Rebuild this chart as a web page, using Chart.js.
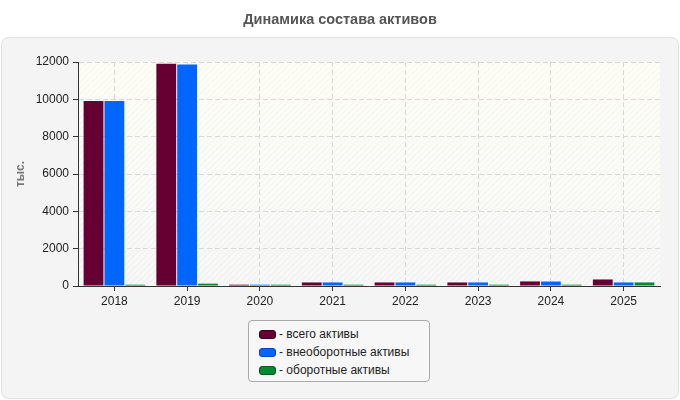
<!DOCTYPE html>
<html>
<head>
<meta charset="utf-8">
<script src="https://cdn.jsdelivr.net/npm/chart.js@4/dist/chart.umd.min.js"></script>
<style>
  html, body { margin: 0; padding: 0; background: #fff; }
  #wrap { position: relative; width: 680px; height: 400px; }
  #legend {
    position: absolute; left: 248px; top: 320px; width: 182px; height: 62px;
    border: 1px solid #aaa; border-radius: 4px; background: #f7f7f7;
    font: 12px "Liberation Sans", Arial, sans-serif; color: #222;
    box-sizing: border-box; padding: 4px 0 0 10px;
  }
  #legend div { height: 18px; line-height: 18px; white-space: nowrap; }
  #legend span.sw {
    display: inline-block; width: 17px; height: 9px; border-radius: 3px;
    vertical-align: -1px; margin-right: 3px; box-sizing: border-box;
  }
</style>
</head>
<body>
<div id="wrap">
  <canvas id="assetChart" width="680" height="400"></canvas>
  <div id="legend"></div>
</div>
<script>
const years = ['2018', '2019', '2020', '2021', '2022', '2023', '2024', '2025'];
const totalAssets   = [9910, 11910, 70, 190, 190, 190, 245, 350];
const fixedAssets   = [9910, 11860, 70, 190, 190, 190, 240, 190];
const currentAssets = [70, 125, 70, 70, 70, 70, 70, 190];
const seriesNames = ['всего активы', 'внеоборотные активы', 'оборотные активы'];
const seriesColors = ['#660033', '#0066ff', '#008833'];
const seriesBorders = ['#3a001c', '#0047b3', '#005a20'];

const fontFamily = '"Liberation Sans", Arial, sans-serif';

// hatch pattern for the plot area
function makeHatch() {
  const c = document.createElement('canvas');
  c.width = 6; c.height = 6;
  const g = c.getContext('2d');
  g.strokeStyle = 'rgba(0,0,0,0.035)';
  g.lineWidth = 1;
  g.beginPath();
  g.moveTo(0, 6); g.lineTo(6, 0);
  g.moveTo(-1, 1); g.lineTo(1, -1);
  g.moveTo(5, 7); g.lineTo(7, 5);
  g.stroke();
  return c;
}

function roundRect(ctx, x, y, w, h, r) {
  ctx.beginPath();
  ctx.moveTo(x + r, y);
  ctx.lineTo(x + w - r, y);
  ctx.quadraticCurveTo(x + w, y, x + w, y + r);
  ctx.lineTo(x + w, y + h - r);
  ctx.quadraticCurveTo(x + w, y + h, x + w - r, y + h);
  ctx.lineTo(x + r, y + h);
  ctx.quadraticCurveTo(x, y + h, x, y + h - r);
  ctx.lineTo(x, y + r);
  ctx.quadraticCurveTo(x, y, x + r, y);
  ctx.closePath();
}

const backgroundPlugin = {
  id: 'panelBackground',
  beforeDraw(chart) {
    const ctx = chart.ctx;
    const a = chart.chartArea;
    ctx.save();
    ctx.fillStyle = '#fff';
    ctx.fillRect(0, 0, chart.width, chart.height);
    roundRect(ctx, 1.5, 37.5, chart.width - 3, chart.height - 39, 8);
    ctx.fillStyle = '#f4f4f4';
    ctx.fill();
    ctx.strokeStyle = '#e2e2e2';
    ctx.lineWidth = 1;
    ctx.stroke();
    const grad = ctx.createLinearGradient(0, a.top, 0, a.bottom);
    grad.addColorStop(0, '#fefef6');
    grad.addColorStop(1, '#f7f7f7');
    ctx.fillStyle = grad;
    ctx.fillRect(a.left, a.top, a.right - a.left, a.bottom - a.top);
    ctx.fillStyle = ctx.createPattern(makeHatch(), 'repeat');
    ctx.fillRect(a.left, a.top, a.right - a.left, a.bottom - a.top);
    ctx.restore();
  }
};

const seriesData = [totalAssets, fixedAssets, currentAssets];
const datasets = seriesNames.map((name, i) => ({
  label: name,
  data: seriesData[i],
  backgroundColor: seriesColors[i],
  borderWidth: 0,
  categoryPercentage: 0.86,
  barPercentage: 0.95
}));

const ctx = document.getElementById('assetChart').getContext('2d');
new Chart(ctx, {
  type: 'bar',
  data: { labels: years, datasets: datasets },
  options: {
    responsive: false,
    animation: false,
    layout: { padding: { left: 20, right: 20, top: 0, bottom: 0 } },
    plugins: {
      legend: { display: false },
      tooltip: { enabled: false },
      title: {
        display: true,
        text: 'Динамика состава активов',
        color: '#555',
        font: { family: fontFamily, size: 14.5, weight: 'bold' },
        padding: { top: 11, bottom: 33.6 }
      }
    },
    scales: {
      x: {
        afterFit(scale) { scale.height = 114; },
        grid: {
          offset: false,
          color: '#d8d8d8',
          tickColor: '#333',
          tickLength: 5
        },
        border: { color: '#333', width: 1, dash: [5, 3] },
        ticks: { color: '#222', padding: 3, font: { family: fontFamily, size: 12 } }
      },
      y: {
        min: 0,
        max: 12000,
        afterFit(scale) { scale.width = 58; },
        ticks: {
          stepSize: 2000, color: '#222', padding: 4,
          font: { family: fontFamily, size: 12 },
          callback: v => String(v)
        },
        grid: { color: '#d8d8d8', tickColor: '#333', tickLength: 5 },
        border: { color: '#333', width: 1, dash: [5, 3] },
        title: {
          display: true,
          text: 'тыс.',
          color: '#777',
          font: { family: fontFamily, size: 12, weight: 'bold' },
          padding: { top: -7, bottom: 0 }
        }
      }
    }
  },
  plugins: [backgroundPlugin]
});

let html = '';
seriesNames.forEach((name, i) => {
  html += '<div><span class="sw" style="background:' + seriesColors[i] + ';border:1px solid ' + seriesBorders[i] + '"></span>- ' + name + '</div>';
});
document.getElementById('legend').innerHTML = html;
</script>
</body>
</html>
